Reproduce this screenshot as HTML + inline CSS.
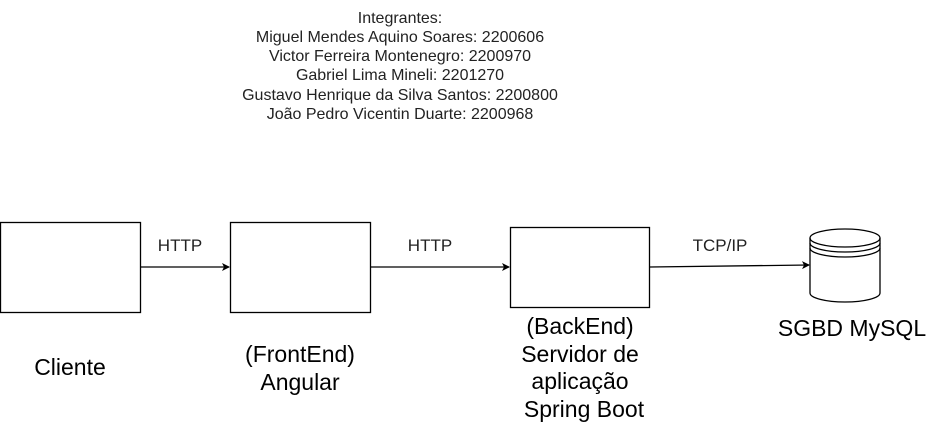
<!DOCTYPE html>
<html><head><style>body{margin:0;background:#fff}</style></head><body>
<svg width="928" height="425" xmlns="http://www.w3.org/2000/svg" style="display:block">
<defs><marker id="a" markerWidth="8" markerHeight="8" refX="7" refY="4" orient="auto" markerUnits="userSpaceOnUse"><path d="M0,0 L8,4 L0,8 L2,4 z" fill="#000"/></marker></defs>
<g font-family="Liberation Sans, sans-serif" fill="#222" text-anchor="middle">
<g font-size="16">
<text x="400" y="23">Integrantes:</text>
<text x="400" y="42">Miguel Mendes Aquino Soares: 2200606</text>
<text x="400" y="61">Victor Ferreira Montenegro: 2200970</text>
<text x="400" y="80">Gabriel Lima Mineli: 2201270</text>
<text x="400" y="100">Gustavo Henrique da Silva Santos: 2200800</text>
<text x="400" y="119">João Pedro Vicentin Duarte: 2200968</text>
</g>
<g font-size="17">
<text x="180" y="251">HTTP</text>
<text x="430" y="251">HTTP</text>
<text x="720" y="251">TCP/IP</text>
</g>
<g font-size="23" fill="#000">
<text x="70" y="375">Cliente</text>
<text x="300" y="362">(FrontEnd)</text>
<text x="300" y="390">Angular</text>
<text x="580" y="334">(BackEnd)</text>
<text x="580" y="362">Servidor de</text>
<text x="580" y="389">aplicação</text>
<text x="584" y="417">Spring Boot</text>
<text x="852" y="336">SGBD MySQL</text>
</g>
</g>
<g fill="#fff" stroke="#000" stroke-width="1.3">
<rect x="0.5" y="222.5" width="140" height="90"/>
<rect x="230.5" y="222.5" width="140" height="90"/>
<rect x="510.5" y="227.5" width="139" height="80"/>
<path d="M810,238 A35,9 0 0 1 880,238 V293 A35,9 0 0 1 810,293 Z"/>
<path d="M810,238 A35,9 0 0 0 880,238 M810,243 A35,9 0 0 0 880,243 M810,248 A35,9 0 0 0 880,248" fill="none"/>
</g>
<g stroke="#000" stroke-width="1.3" fill="none">
<line x1="141" y1="267" x2="229" y2="267" marker-end="url(#a)"/>
<line x1="371" y1="267" x2="509" y2="267" marker-end="url(#a)"/>
<line x1="650" y1="267" x2="809" y2="265" marker-end="url(#a)"/>
</g>
</svg>
</body></html>
